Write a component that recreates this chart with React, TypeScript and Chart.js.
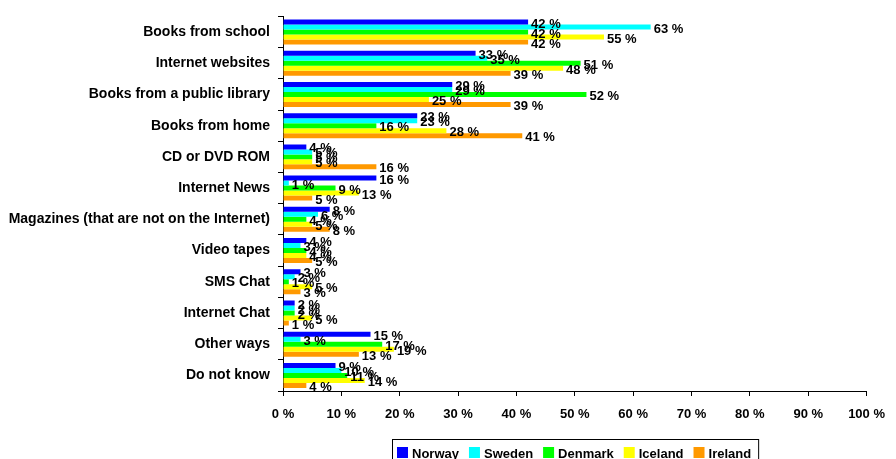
import React, { useEffect, useRef } from "react";
import { Chart, registerables } from "chart.js";

Chart.register(...registerables);

const categories = [
  "Books from school",
  "Internet websites",
  "Books from a public library",
  "Books from home",
  "CD or DVD ROM",
  "Internet News",
  "Magazines (that are not on the Internet)",
  "Video tapes",
  "SMS Chat",
  "Internet Chat",
  "Other ways",
  "Do not know",
];

const norway = [42, 33, 29, 23, 4, 16, 8, 4, 3, 2, 15, 9];
const sweden = [63, 35, 29, 23, 5, 1, 6, 3, 2, 2, 3, 10];
const denmark = [42, 51, 52, 16, 5, 9, 4, 4, 1, 2, 17, 11];
const iceland = [55, 48, 25, 28, 5, 13, 5, 4, 5, 5, 19, 14];
const ireland = [42, 39, 39, 41, 16, 5, 8, 5, 3, 1, 13, 4];

const seriesNames = ["Norway", "Sweden", "Denmark", "Iceland", "Ireland"];
const seriesColors = ["#0000FF", "#00FFFF", "#00FF00", "#FFFF00", "#FF9900"];
const xTicks = [0, 10, 20, 30, 40, 50, 60, 70, 80, 90, 100];

const FONT = '"Liberation Sans", Arial, sans-serif';

const valueLabels = {
  id: "valueLabels",
  afterDatasetsDraw(chart: any) {
    const ctx = chart.ctx;
    ctx.save();
    ctx.font = `bold 13px ${FONT}`;
    ctx.fillStyle = "#000";
    ctx.textAlign = "left";
    ctx.textBaseline = "middle";
    chart.data.datasets.forEach((ds: any, di: number) => {
      const meta = chart.getDatasetMeta(di);
      meta.data.forEach((el: any, i: number) => {
        ctx.fillText(`${ds.data[i]} %`, el.x + 3, el.y + 2);
      });
    });
    ctx.restore();
  },
};

const boxLegend = {
  id: "boxLegend",
  afterDraw(chart: any) {
    const ctx = chart.ctx;
    const area = chart.chartArea;
    ctx.save();
    ctx.font = `bold 13px ${FONT}`;
    const items = chart.data.datasets.map((ds: any) => ({
      label: ds.label,
      color: ds.backgroundColor,
      w: ctx.measureText(ds.label).width,
    }));
    const sq = 11;
    const gapAfterSq = 4;
    const gapItems = 10;
    const padL = 5;
    const padR = 7;
    let total = padL + padR;
    items.forEach((it: any, i: number) => {
      total += sq + gapAfterSq + it.w + (i < items.length - 1 ? gapItems : 0);
    });
    const cx = (area.left + area.right) / 2;
    const left = Math.round(cx - total / 2);
    const top = 439;
    const h = 24;
    ctx.strokeStyle = "#000";
    ctx.lineWidth = 1;
    ctx.strokeRect(left + 0.5, top + 0.5, total, h);
    let x = left + padL;
    const sqTop = 447;
    items.forEach((it: any) => {
      ctx.fillStyle = it.color;
      ctx.fillRect(x, sqTop, sq, sq);
      x += sq + gapAfterSq;
      ctx.fillStyle = "#000";
      ctx.textBaseline = "middle";
      ctx.textAlign = "left";
      ctx.fillText(it.label, x, sqTop + 7);
      x += it.w + gapItems;
    });
    ctx.restore();
  },
};

export default function App() {
  const ref = useRef<HTMLCanvasElement | null>(null);

  useEffect(() => {
    if (!ref.current) return;
    const seriesData = [norway, sweden, denmark, iceland, ireland];
    const chart = new Chart(ref.current, {
      type: "bar",
      data: {
        labels: categories,
        datasets: seriesNames.map((name, i) => ({
          label: name,
          data: seriesData[i],
          backgroundColor: seriesColors[i],
          borderWidth: 0,
          categoryPercentage: 0.8,
          barPercentage: 1.0,
        })),
      },
      options: {
        indexAxis: "y",
        responsive: false,
        animation: false,
        devicePixelRatio: 1,
        layout: { padding: { left: 0, right: 21, top: 8, bottom: 0 } },
        plugins: {
          legend: { display: false },
          tooltip: { enabled: false },
        },
        scales: {
          x: {
            type: "linear",
            min: 0,
            max: 100,
            afterBuildTicks(scale: any) {
              scale.ticks = xTicks.map((v) => ({ value: v }));
            },
            afterFit(scale: any) {
              scale.height = 68;
            },
            grid: {
              display: true,
              drawOnChartArea: false,
              drawTicks: true,
              tickLength: 5,
              color: "#000",
            },
            border: { display: true, color: "#000", width: 1 },
            ticks: {
              color: "#000",
              padding: 11,
              maxRotation: 0,
              font: { family: FONT, size: 13, weight: "bold" },
              callback: (v: any) => `${v} %`,
            },
          },
          y: {
            type: "category",
            afterFit(scale: any) {
              scale.width = 283;
            },
            grid: {
              display: true,
              offset: true,
              drawOnChartArea: false,
              drawTicks: true,
              tickLength: 5,
              color: "#000",
            },
            border: { display: true, color: "#000", width: 1 },
            ticks: {
              color: "#000",
              padding: 8,
              autoSkip: false,
              font: { family: FONT, size: 14, weight: "bold" },
            },
          },
        },
      },
      plugins: [valueLabels, boxLegend],
    } as any);
    return () => chart.destroy();
  }, []);

  return (
    <div style={{ position: "fixed", left: 0, top: 0, width: 896, height: 459, background: "#fff" }}>
      <canvas ref={ref} width={896} height={459} style={{ display: "block" }} />
    </div>
  );
}
